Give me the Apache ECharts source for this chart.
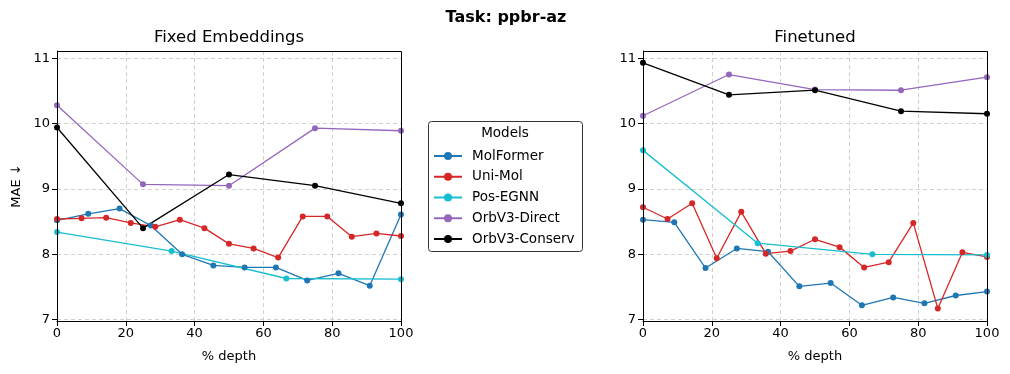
<!DOCTYPE html>
<html>
<head>
<meta charset="utf-8">
<script src="https://cdn.jsdelivr.net/npm/echarts@6/dist/echarts.min.js"></script>
<style>
  html, body { margin: 0; padding: 0; background: #fff; }
  #chart { width: 1010px; height: 374px; }
</style>
</head>
<body>
<div id="chart"></div>
<script>
// depth positions (% of layers) for each model
var depthMolFormer = [0, 9.09, 18.18, 27.27, 36.36, 45.45, 54.55, 63.64, 72.73, 81.82, 90.91, 100];
var depthUniMol = [0, 7.14, 14.29, 21.43, 28.57, 35.71, 42.86, 50, 57.14, 64.29, 71.43, 78.57, 85.71, 92.86, 100];
var depthPosEGNN = [0, 33.33, 66.67, 100];
var depthOrb = [0, 25, 50, 75, 100];

// Fixed Embeddings MAE
var fixedMolFormer = [8.52, 8.62, 8.70, 8.44, 8.00, 7.83, 7.80, 7.80, 7.60, 7.71, 7.52, 8.61];
var fixedUniMol = [8.54, 8.55, 8.56, 8.48, 8.42, 8.53, 8.40, 8.16, 8.09, 7.95, 8.58, 8.58, 8.27, 8.32, 8.28];
var fixedPosEGNN = [8.34, 8.05, 7.63, 7.62];
var fixedOrbDirect = [10.28, 9.07, 9.05, 9.93, 9.89];
var fixedOrbConserv = [9.94, 8.40, 9.22, 9.05, 8.78];

// Finetuned MAE
var tunedMolFormer = [8.53, 8.49, 7.79, 8.09, 8.04, 7.51, 7.56, 7.22, 7.34, 7.25, 7.37, 7.43];
var tunedUniMol = [8.72, 8.54, 8.78, 7.94, 8.65, 8.01, 8.05, 8.23, 8.11, 7.80, 7.88, 8.48, 7.17, 8.03, 7.96];
var tunedPosEGNN = [9.59, 8.17, 8.00, 7.99];
var tunedOrbDirect = [10.12, 10.75, 10.52, 10.51, 10.71];
var tunedOrbConserv = [10.93, 10.44, 10.51, 10.19, 10.15];

var modelNames = ['MolFormer', 'Uni-Mol', 'Pos-EGNN', 'OrbV3-Direct', 'OrbV3-Conserv'];
var modelColors = ['#1f77b4', '#d62728', '#17becf', '#9467bd', '#000000'];
var yTicks = [7, 8, 9, 10, 11];

function zip(xs, ys) {
    var out = [];
    for (var i = 0; i < xs.length; i++) {
        out.push([xs[i], ys[i]]);
    }
    return out;
}

var font = 'DejaVu Sans';
var myChart = echarts.init(document.getElementById('chart'));

var grids = [
    {left: 57, top: 51, width: 344, height: 270},
    {left: 643, top: 51, width: 344, height: 270}
];

function makeXAxis(idx) {
    return {
        type: 'value', gridIndex: idx, min: 0, max: 100, interval: 20,
        name: '% depth', nameLocation: 'middle', nameGap: 29,
        nameTextStyle: {fontFamily: font, fontSize: 13, color: '#000'},
        axisLine: {show: true, onZero: false, lineStyle: {color: '#000', width: 1}},
        axisTick: {show: true, length: 5, lineStyle: {color: '#000'}},
        axisLabel: {fontFamily: font, fontSize: 13, color: '#000', margin: 6},
        splitLine: {show: true, lineStyle: {color: '#d0d0d0', type: [4, 3], width: 1}}
    };
}

function makeYAxis(idx, withName) {
    return {
        type: 'value', gridIndex: idx, min: 6.98, max: 11.11,
        name: withName ? 'MAE \u2193' : '', nameLocation: 'middle', nameGap: 34,
        nameTextStyle: {fontFamily: font, fontSize: 13, color: '#000'},
        axisLine: {show: true, onZero: false, lineStyle: {color: '#000', width: 1}},
        axisTick: {show: true, length: 5, customValues: yTicks, lineStyle: {color: '#000'}},
        axisLabel: {fontFamily: font, fontSize: 13, color: '#000', margin: 7, customValues: yTicks},
        splitLine: {show: true, lineStyle: {color: '#d0d0d0', type: [4, 3], width: 1}}
    };
}

var panels = [
    [fixedMolFormer, fixedUniMol, fixedPosEGNN, fixedOrbDirect, fixedOrbConserv],
    [tunedMolFormer, tunedUniMol, tunedPosEGNN, tunedOrbDirect, tunedOrbConserv]
];
var depths = [depthMolFormer, depthUniMol, depthPosEGNN, depthOrb, depthOrb];

var series = [];
for (var p = 0; p < panels.length; p++) {
    for (var m = 0; m < modelNames.length; m++) {
        series.push({
            name: modelNames[m],
            type: 'line',
            xAxisIndex: p,
            yAxisIndex: p,
            data: zip(depths[m], panels[p][m]),
            symbol: 'circle',
            symbolSize: 6,
            showSymbol: true,
            clip: false,
            itemStyle: {color: modelColors[m]},
            lineStyle: {color: modelColors[m], width: 1.3}
        });
    }
}

// frames drawn on top of the dashed grid lines
var frames = grids.map(function (g) {
    return {type: 'rect', z: 50, silent: true,
        shape: {x: g.left + 0.5, y: g.top + 0.5, width: g.width, height: g.height},
        style: {fill: null, stroke: '#000', lineWidth: 1}};
});

myChart.setOption({
    animation: false,
    grid: grids,
    xAxis: [makeXAxis(0), makeXAxis(1)],
    yAxis: [makeYAxis(0, true), makeYAxis(1, false)],
    legend: {
        orient: 'vertical',
        left: 433, top: 148, padding: 0,
        itemWidth: 28, itemHeight: 10, itemGap: 4.75,
        textStyle: {fontFamily: font, fontSize: 13.5, lineHeight: 16, color: '#000', padding: [0, 0, 0, 5]},
        data: modelNames
    },
    graphic: frames.concat([
        {type: 'rect', shape: {x: 428.5, y: 121.5, width: 154, height: 130, r: 3},
            style: {fill: '#fff', stroke: '#333', lineWidth: 1}, z: 0},
        {type: 'text', x: 505, y: 126, style: {text: 'Models', textAlign: 'center',
            font: '13.5px "DejaVu Sans"', fill: '#000'}},
        {type: 'text', x: 506, y: 10, style: {text: 'Task: ppbr-az', textAlign: 'center',
            font: 'bold 16px "DejaVu Sans"', fill: '#000'}},
        {type: 'text', x: 229, y: 29, style: {text: 'Fixed Embeddings', textAlign: 'center',
            font: '16.5px "DejaVu Sans"', fill: '#000'}},
        {type: 'text', x: 815, y: 29, style: {text: 'Finetuned', textAlign: 'center',
            font: '16.5px "DejaVu Sans"', fill: '#000'}}
    ]),
    series: series
});
</script>
</body>
</html>
